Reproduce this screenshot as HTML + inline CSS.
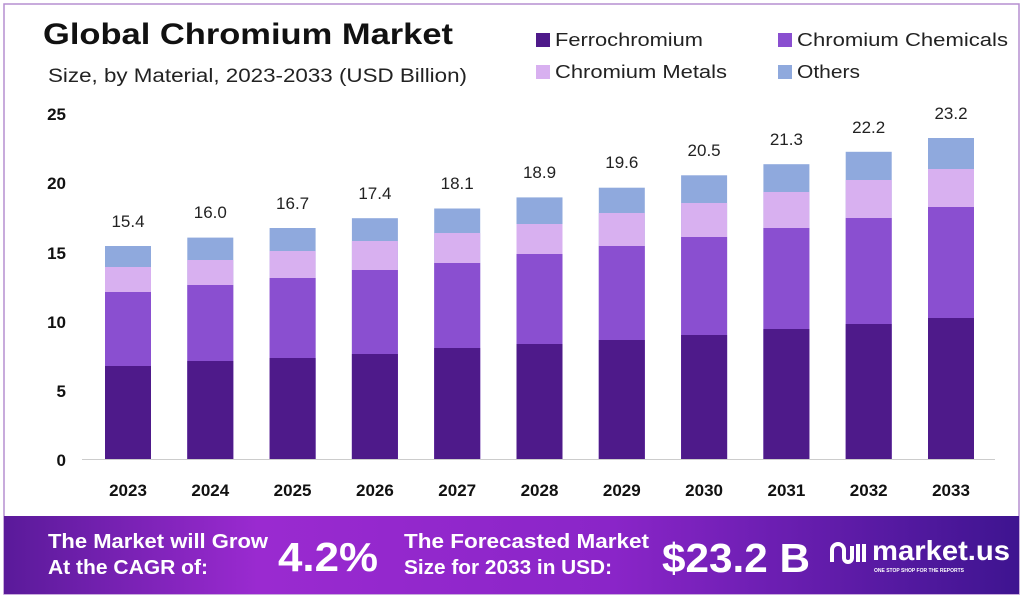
<!DOCTYPE html>
<html><head><meta charset="utf-8"><style>
body{margin:0;width:1024px;height:600px;background:#fff;overflow:hidden;font-family:"Liberation Sans",sans-serif}
</style></head><body>
<svg width="1024" height="600" xmlns="http://www.w3.org/2000/svg" font-family="Liberation Sans, sans-serif">
<rect x="4" y="4" width="1015" height="590" fill="#fff" stroke="#b58fd0" stroke-width="1.5"/>
<text x="43" y="44" font-size="30" font-weight="bold" fill="#111" textLength="410" lengthAdjust="spacingAndGlyphs">Global Chromium Market</text>
<text x="48" y="82" font-size="19" fill="#222" textLength="419" lengthAdjust="spacingAndGlyphs">Size, by Material, 2023-2033 (USD Billion)</text>
<g font-size="18" fill="#222">
<rect x="536" y="33" width="14" height="14" fill="#4e1a8a"/><text x="555" y="46" textLength="148" lengthAdjust="spacingAndGlyphs">Ferrochromium</text>
<rect x="778" y="33" width="14" height="14" fill="#8a4fd0"/><text x="797" y="46" textLength="211" lengthAdjust="spacingAndGlyphs">Chromium Chemicals</text>
<rect x="536" y="65" width="14" height="14" fill="#d8b0f0"/><text x="555" y="78" textLength="172" lengthAdjust="spacingAndGlyphs">Chromium Metals</text>
<rect x="778" y="65" width="14" height="14" fill="#8fa9dd"/><text x="797" y="78" textLength="63" lengthAdjust="spacingAndGlyphs">Others</text>
</g>
<g font-size="17" font-weight="bold" fill="#111" text-anchor="end">
<text x="66" y="120">25</text><text x="66" y="189">20</text><text x="66" y="259">15</text>
<text x="66" y="328">10</text><text x="66" y="397">5</text><text x="66" y="466">0</text>
</g>
<line x1="82" y1="459.5" x2="995" y2="459.5" stroke="#ccc" stroke-width="1"/>
<g id="bars">
<g fill="#8fa9dd">
<rect x="105" y="246" width="46" height="213"/><rect x="187.3" y="237.6" width="46" height="221.4"/>
<rect x="269.6" y="228" width="46" height="231"/><rect x="351.9" y="218.2" width="46" height="240.8"/>
<rect x="434.2" y="208.5" width="46" height="250.5"/><rect x="516.5" y="197.4" width="46" height="261.6"/>
<rect x="598.8" y="187.7" width="46" height="271.3"/><rect x="681.1" y="175.3" width="46" height="283.7"/>
<rect x="763.4" y="164.2" width="46" height="294.8"/><rect x="845.7" y="151.8" width="46" height="307.2"/>
<rect x="928" y="138" width="46" height="321"/>
</g>
<g fill="#d8b0f0">
<rect x="105" y="267" width="46" height="192"/><rect x="187.3" y="260" width="46" height="199"/>
<rect x="269.6" y="251" width="46" height="208"/><rect x="351.9" y="241" width="46" height="218"/>
<rect x="434.2" y="233" width="46" height="226"/><rect x="516.5" y="224" width="46" height="235"/>
<rect x="598.8" y="213" width="46" height="246"/><rect x="681.1" y="203" width="46" height="256"/>
<rect x="763.4" y="192" width="46" height="267"/><rect x="845.7" y="180" width="46" height="279"/>
<rect x="928" y="169" width="46" height="290"/>
</g>
<g fill="#8a4fd0">
<rect x="105" y="292" width="46" height="167"/><rect x="187.3" y="285" width="46" height="174"/>
<rect x="269.6" y="278" width="46" height="181"/><rect x="351.9" y="270" width="46" height="189"/>
<rect x="434.2" y="263" width="46" height="196"/><rect x="516.5" y="254" width="46" height="205"/>
<rect x="598.8" y="246" width="46" height="213"/><rect x="681.1" y="237" width="46" height="222"/>
<rect x="763.4" y="228" width="46" height="231"/><rect x="845.7" y="218" width="46" height="241"/>
<rect x="928" y="207" width="46" height="252"/>
</g>
<g fill="#4e1a8a">
<rect x="105" y="366" width="46" height="93"/><rect x="187.3" y="361" width="46" height="98"/>
<rect x="269.6" y="358" width="46" height="101"/><rect x="351.9" y="354" width="46" height="105"/>
<rect x="434.2" y="348" width="46" height="111"/><rect x="516.5" y="344" width="46" height="115"/>
<rect x="598.8" y="340" width="46" height="119"/><rect x="681.1" y="335" width="46" height="124"/>
<rect x="763.4" y="329" width="46" height="130"/><rect x="845.7" y="324" width="46" height="135"/>
<rect x="928" y="318" width="46" height="141"/>
</g>
</g>
<g font-size="17" fill="#222" text-anchor="middle">
<text x="128" y="227">15.4</text><text x="210.3" y="218">16.0</text><text x="292.6" y="209">16.7</text>
<text x="374.9" y="199">17.4</text><text x="457.2" y="189">18.1</text><text x="539.5" y="178">18.9</text>
<text x="621.8" y="168">19.6</text><text x="704.1" y="156">20.5</text><text x="786.4" y="145">21.3</text>
<text x="868.7" y="133">22.2</text><text x="951" y="119">23.2</text>
</g>
<g font-size="17" font-weight="bold" fill="#111" text-anchor="middle">
<text x="128" y="496">2023</text><text x="210.3" y="496">2024</text><text x="292.6" y="496">2025</text>
<text x="374.9" y="496">2026</text><text x="457.2" y="496">2027</text><text x="539.5" y="496">2028</text>
<text x="621.8" y="496">2029</text><text x="704.1" y="496">2030</text><text x="786.4" y="496">2031</text>
<text x="868.7" y="496">2032</text><text x="951" y="496">2033</text>
</g>
<defs><linearGradient id="bg" x1="0" x2="1" y1="0" y2="0">
<stop offset="0" stop-color="#5a1a9a"/><stop offset="0.25" stop-color="#9a2ad0"/><stop offset="0.6" stop-color="#8a25c8"/><stop offset="1" stop-color="#3e1490"/>
</linearGradient></defs>
<rect x="4" y="516" width="1015" height="78" fill="url(#bg)"/>
<g fill="#fff" font-weight="bold">
<text x="48" y="548" font-size="20" textLength="220" lengthAdjust="spacingAndGlyphs">The Market will Grow</text>
<text x="48" y="574" font-size="20" textLength="160" lengthAdjust="spacingAndGlyphs">At the CAGR of:</text>
<text x="278" y="571" font-size="41" textLength="100" lengthAdjust="spacingAndGlyphs">4.2%</text>
<text x="404" y="548" font-size="20" textLength="245" lengthAdjust="spacingAndGlyphs">The Forecasted Market</text>
<text x="404" y="574" font-size="20" textLength="208" lengthAdjust="spacingAndGlyphs">Size for 2033 in USD:</text>
<text x="662" y="572" font-size="41" textLength="148" lengthAdjust="spacingAndGlyphs">$23.2 B</text>
<text x="872" y="560" font-size="28" textLength="138" lengthAdjust="spacingAndGlyphs">market.us</text>
<text x="874" y="572" font-size="5">ONE STOP SHOP FOR THE REPORTS</text>
</g>
<path d="M832 562 v-12 a6 6 0 0 1 12 0 v8 a4 4 0 0 0 8 0 v-12 M858 544 v18 M864 544 v18" stroke="#fff" stroke-width="4" fill="none"/>
</svg>
</body></html>
